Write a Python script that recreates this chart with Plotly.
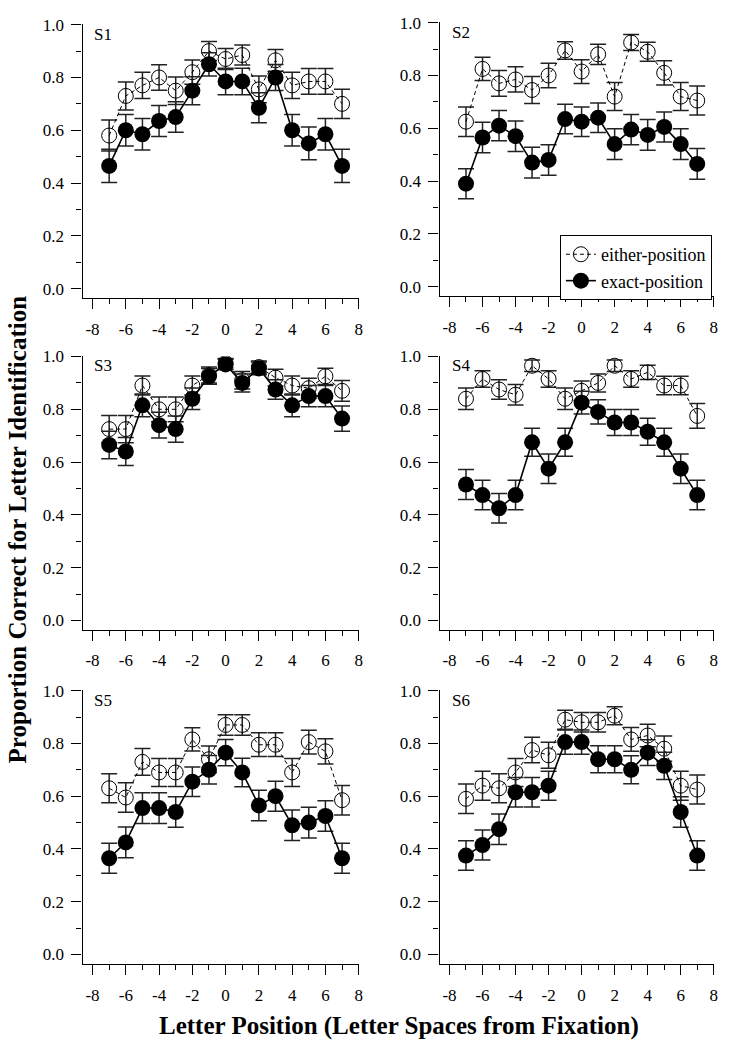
import plotly.graph_objects as go

positions = [-7, -6, -5, -4, -3, -2, -1, 0, 1, 2, 3, 4, 5, 6, 7]
panel_labels = ["S1", "S2", "S3", "S4", "S5", "S6"]

s1_either = [0.58, 0.73, 0.77, 0.80, 0.75, 0.82, 0.90, 0.87, 0.885, 0.755, 0.865, 0.77, 0.785, 0.785, 0.70]
s1_either_err = [0.059, 0.053, 0.050, 0.048, 0.052, 0.046, 0.036, 0.040, 0.038, 0.051, 0.041, 0.050, 0.049, 0.049, 0.055]
s1_exact = [0.465, 0.60, 0.585, 0.635, 0.65, 0.75, 0.85, 0.785, 0.785, 0.685, 0.80, 0.60, 0.55, 0.585, 0.465]
s1_exact_err = [0.063, 0.06, 0.06, 0.059, 0.058, 0.053, 0.044, 0.05, 0.05, 0.057, 0.049, 0.06, 0.062, 0.06, 0.063]

s2_either = [0.625, 0.825, 0.77, 0.785, 0.745, 0.80, 0.895, 0.815, 0.88, 0.72, 0.925, 0.89, 0.81, 0.72, 0.705]
s2_either_err = [0.056, 0.044, 0.049, 0.048, 0.051, 0.046, 0.033, 0.045, 0.038, 0.053, 0.030, 0.036, 0.046, 0.053, 0.055]
s2_exact = [0.39, 0.565, 0.61, 0.57, 0.47, 0.48, 0.635, 0.625, 0.64, 0.54, 0.595, 0.575, 0.605, 0.54, 0.465]
s2_exact_err = [0.057, 0.058, 0.057, 0.058, 0.058, 0.058, 0.056, 0.056, 0.056, 0.058, 0.057, 0.058, 0.057, 0.058, 0.058]

s3_either = [0.725, 0.725, 0.89, 0.80, 0.80, 0.89, 0.93, 0.975, 0.91, 0.96, 0.92, 0.89, 0.88, 0.925, 0.87]
s3_either_err = [0.052, 0.052, 0.036, 0.047, 0.047, 0.036, 0.030, 0.018, 0.033, 0.023, 0.032, 0.036, 0.038, 0.031, 0.039]
s3_exact = [0.665, 0.64, 0.815, 0.74, 0.725, 0.84, 0.925, 0.97, 0.90, 0.955, 0.875, 0.815, 0.85, 0.85, 0.765]
s3_exact_err = [0.052, 0.053, 0.043, 0.049, 0.05, 0.041, 0.03, 0.02, 0.034, 0.024, 0.037, 0.043, 0.04, 0.04, 0.048]

s4_either = [0.84, 0.915, 0.875, 0.855, 0.965, 0.915, 0.84, 0.87, 0.90, 0.965, 0.915, 0.94, 0.89, 0.89, 0.775]
s4_either_err = [0.041, 0.031, 0.037, 0.039, 0.022, 0.031, 0.041, 0.037, 0.034, 0.022, 0.031, 0.027, 0.035, 0.035, 0.047]
s4_exact = [0.515, 0.475, 0.425, 0.475, 0.675, 0.575, 0.675, 0.825, 0.79, 0.75, 0.75, 0.715, 0.675, 0.575, 0.475]
s4_exact_err = [0.057, 0.056, 0.056, 0.056, 0.053, 0.056, 0.053, 0.043, 0.046, 0.049, 0.049, 0.051, 0.053, 0.056, 0.056]

s5_either = [0.63, 0.595, 0.73, 0.69, 0.69, 0.815, 0.74, 0.87, 0.87, 0.795, 0.795, 0.69, 0.805, 0.77, 0.585]
s5_either_err = [0.055, 0.056, 0.051, 0.053, 0.053, 0.044, 0.050, 0.039, 0.039, 0.045, 0.045, 0.053, 0.045, 0.048, 0.056]
s5_exact = [0.365, 0.425, 0.555, 0.555, 0.54, 0.655, 0.70, 0.765, 0.69, 0.565, 0.60, 0.49, 0.50, 0.525, 0.365]
s5_exact_err = [0.057, 0.058, 0.058, 0.058, 0.058, 0.056, 0.054, 0.050, 0.054, 0.058, 0.057, 0.058, 0.058, 0.058, 0.057]

s6_either = [0.59, 0.64, 0.63, 0.69, 0.775, 0.755, 0.89, 0.88, 0.88, 0.905, 0.815, 0.83, 0.78, 0.64, 0.625]
s6_either_err = [0.056, 0.055, 0.055, 0.053, 0.048, 0.049, 0.036, 0.037, 0.037, 0.034, 0.045, 0.043, 0.048, 0.055, 0.055]
s6_exact = [0.375, 0.415, 0.475, 0.615, 0.615, 0.64, 0.805, 0.805, 0.74, 0.74, 0.70, 0.765, 0.715, 0.54, 0.375]
s6_exact_err = [0.056, 0.057, 0.058, 0.056, 0.056, 0.055, 0.046, 0.046, 0.051, 0.051, 0.053, 0.049, 0.052, 0.058, 0.056]

x_ticks = [-8, -6, -4, -2, 0, 2, 4, 6, 8]
y_ticks = [0.0, 0.2, 0.4, 0.6, 0.8, 1.0]

either_vals = [s1_either, s2_either, s3_either, s4_either, s5_either, s6_either]
either_errs = [s1_either_err, s2_either_err, s3_either_err, s4_either_err, s5_either_err, s6_either_err]
exact_vals = [s1_exact, s2_exact, s3_exact, s4_exact, s5_exact, s6_exact]
exact_errs = [s1_exact_err, s2_exact_err, s3_exact_err, s4_exact_err, s5_exact_err, s6_exact_err]

W, H = 730, 1050
FONT = "Liberation Serif"

# page-pixel boxes (left, right, top, bottom) for each panel
boxes = [
    (83, 361, 15.3, 291.6),
    (442, 718, 13.3, 289.6),
    (83, 361, 350, 626.3),
    (442, 718, 350, 626.3),
    (83, 361, 687, 963.3),
    (442, 718, 687, 963.3),
]


def px(xp):
    return xp / W


def py(yp):
    return 1 - yp / H


fig = go.Figure()

for i in range(6):
    sfx = "" if i == 0 else str(i + 1)
    xa, ya = "x" + sfx, "y" + sfx
    fig.add_trace(go.Scatter(
        x=positions, y=either_vals[i], xaxis=xa, yaxis=ya,
        name="either-position", legendgroup="either", showlegend=(i == 0),
        mode="lines+markers",
        line=dict(color="black", width=1, dash="4px,3px"),
        marker=dict(symbol="circle-open", size=15, color="black", line=dict(width=1, color="black")),
        error_y=dict(type="data", array=either_errs[i], visible=True, color="#222222", thickness=1.5, width=8),
    ))
    fig.add_trace(go.Scatter(
        x=positions, y=exact_vals[i], xaxis=xa, yaxis=ya,
        name="exact-position", legendgroup="exact", showlegend=(i == 0),
        mode="lines+markers",
        line=dict(color="black", width=1.6),
        marker=dict(symbol="circle", size=16, color="black"),
        error_y=dict(type="data", array=exact_errs[i], visible=True, color="#222222", thickness=1.5, width=8),
    ))

    l, r, t, b = boxes[i]
    xdom = [px(l), px(r)]
    ydom = [py(b), py(t)]
    common = dict(showline=True, linecolor="black", linewidth=1.3, ticks="outside",
                  tickcolor="black", tickwidth=1.3, ticklen=10, showgrid=False, zeroline=False,
                  tickfont=dict(family=FONT, size=17, color="black"))
    fig.update_layout(**{
        "xaxis" + sfx: dict(domain=xdom, anchor=ya, range=[-8.6, 8.02], tickmode="array",
                            tickvals=x_ticks, ticktext=[str(v) for v in x_ticks],
                            minor=dict(ticks="outside", ticklen=5, tickwidth=1.3, tickcolor="black", dtick=1, tick0=-7),
                            ticklabelstandoff=5, **common),
        "yaxis" + sfx: dict(domain=ydom, anchor=xa, range=[-0.036, 1.002], tickmode="array",
                            tickvals=y_ticks, ticktext=["%.1f" % v for v in y_ticks],
                            minor=dict(ticks="outside", ticklen=5, tickwidth=1.3, tickcolor="black", dtick=0.1, tick0=0.1),
                            ticklabelstandoff=4, **common),
    })
    fig.add_annotation(text=panel_labels[i], xref=xa + " domain", yref=ya + " domain",
                       x=(10 / (r - l)), y=1 - 10 / (b - t), xanchor="left", yanchor="middle",
                       showarrow=False, font=dict(family=FONT, size=17, color="black"))

fig.add_annotation(text="<b>Letter Position (Letter Spaces from Fixation)</b>", xref="paper", yref="paper",
                   x=px(401), y=py(1026), xanchor="center", yanchor="middle", showarrow=False,
                   font=dict(family=FONT, size=25, color="black"))
fig.add_annotation(text="<b>Proportion Correct for Letter Identification</b>", xref="paper", yref="paper",
                   x=px(18), y=py(525), xanchor="center", yanchor="middle", showarrow=False, textangle=-90,
                   font=dict(family=FONT, size=25, color="black"))

fig.update_layout(
    width=W, height=H,
    margin=dict(l=0, r=0, t=0, b=0),
    paper_bgcolor="white", plot_bgcolor="white",
    showlegend=True,
    legend=dict(x=px(563), y=py(228), xanchor="left", yanchor="top",
                bordercolor="black", borderwidth=1, bgcolor="white",
                font=dict(family=FONT, size=18, color="black"),
                itemwidth=30, tracegroupgap=0),
)

fig.write_html("out.html", config={"displayModeBar": False},
               post_script="document.body.style.margin='0px';document.body.style.overflow='hidden';")
